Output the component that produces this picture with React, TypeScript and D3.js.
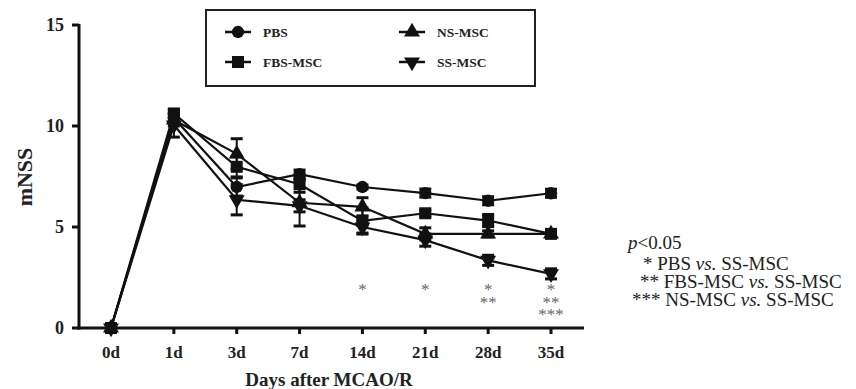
import React from 'react';
import * as d3 from 'd3';

// time points on the x axis
const days = ['0d', '1d', '3d', '7d', '14d', '21d', '28d', '35d'];
const yTicks = [0, 5, 10, 15];

// mean mNSS per group
const pbs = [0, 10.4, 6.98, 7.62, 6.98, 6.68, 6.3, 6.67];
const fbs = [0, 10.62, 7.98, 7.12, 5.3, 5.68, 5.32, 4.66];
const ns = [0, 10.3, 8.62, 6.2, 6.0, 4.66, 4.66, 4.66];
const ss = [0, 10.05, 6.35, 6.05, 5.0, 4.35, 3.35, 2.68];

// error (SEM) per group
const pbsErr = [0, 0.2, 0.45, 0.2, 0.1, 0.2, 0.2, 0.2];
const fbsErr = [0, 0.2, 0.5, 0.4, 0.65, 0.15, 0.3, 0.1];
const nsErr = [0, 0.3, 0.75, 1.15, 0.45, 0.3, 0.15, 0.1];
const ssErr = [0, 0.6, 0.75, 0.3, 0.3, 0.3, 0.25, 0.25];

// significance marks per day
const stars = [[], [], [], [], ['*'], ['*'], ['*', '**'], ['*', '**', '***']];

const groups = [
  { name: 'PBS', values: pbs, err: pbsErr, shape: 'circle' },
  { name: 'FBS-MSC', values: fbs, err: fbsErr, shape: 'square' },
  { name: 'NS-MSC', values: ns, err: nsErr, shape: 'up' },
  { name: 'SS-MSC', values: ss, err: ssErr, shape: 'down' },
];

const serif = '"Liberation Serif", "Times New Roman", serif';

const symbolPath = (shape: string) => {
  if (shape === 'circle') return d3.symbol(d3.symbolCircle, 120)()!;
  if (shape === 'square') return d3.symbol(d3.symbolSquare, 144)()!;
  return d3.symbol(d3.symbolTriangle, 110)()!;
};

const Marker = ({ shape, x, y }: { shape: string; x: number; y: number }) => (
  <path
    d={symbolPath(shape)}
    transform={`translate(${x},${y})${shape === 'down' ? ' rotate(180)' : ''}`}
    fill="#111"
  />
);

export default function App() {
  const x = d3.scalePoint<string>().domain(days).range([111, 551]);
  const y = d3.scaleLinear().domain([0, 15]).range([328, 25]);
  const line = d3
    .line<number>()
    .x((_, i) => x(days[i])!)
    .y((d) => y(d));

  return (
    <svg
      width={856}
      height={389}
      style={{ position: 'absolute', left: 0, top: 0, background: '#fff' }}
      fontFamily={serif}
    >
      {/* legend */}
      <rect x={206} y={10} width={329} height={76} fill="none" stroke="#222" strokeWidth={2} />
      {groups.map((g, i) => {
        const lx = i < 2 ? 238 : 412;
        const ly = i % 2 === 0 ? 32 : 62;
        return (
          <g key={g.name}>
            <line x1={lx - 13} x2={lx + 13} y1={ly} y2={ly} stroke="#111" strokeWidth={2.5} />
            <Marker shape={g.shape} x={lx} y={ly} />
            <text x={lx + 25} y={ly + 5} fontSize={13.5} fontWeight="bold" fill="#222">
              {g.name}
            </text>
          </g>
        );
      })}

      {/* lines */}
      {groups.map((g) => (
        <path key={g.name} d={line(g.values)!} fill="none" stroke="#111" strokeWidth={2.2} />
      ))}

      {/* error bars */}
      {groups.map((g) =>
        g.values.map((v, i) => {
          if (!g.err[i]) return null;
          const cx = x(days[i])!;
          const y1 = y(v + g.err[i]);
          const y2 = y(v - g.err[i]);
          return (
            <g key={g.name + i} stroke="#111">
              <line x1={cx} x2={cx} y1={y1} y2={y2} strokeWidth={2} />
              <line x1={cx - 6} x2={cx + 6} y1={y1} y2={y1} strokeWidth={3} />
              <line x1={cx - 6} x2={cx + 6} y1={y2} y2={y2} strokeWidth={3} />
            </g>
          );
        })
      )}

      {/* markers */}
      {groups.map((g) =>
        g.values.map((v, i) => (
          <Marker key={g.name + 'm' + i} shape={g.shape} x={x(days[i])!} y={y(v)} />
        ))
      )}

      {/* y axis */}
      <line x1={79} x2={79} y1={24} y2={329.5} stroke="#111" strokeWidth={3} />
      {yTicks.map((t) => (
        <g key={t}>
          <line x1={72} x2={79} y1={y(t)} y2={y(t)} stroke="#111" strokeWidth={3} />
          <text x={64} y={y(t) + 6} textAnchor="end" fontSize={18} fontWeight="bold" fill="#222">
            {t}
          </text>
        </g>
      ))}
      <text
        transform="translate(32,177) rotate(-90)"
        textAnchor="middle"
        fontSize={22}
        fontWeight="bold"
        fill="#222"
      >
        mNSS
      </text>

      {/* x axis */}
      <line x1={77.5} x2={584} y1={328} y2={328} stroke="#111" strokeWidth={3} />
      {days.map((d) => (
        <g key={d}>
          <line x1={x(d)} x2={x(d)} y1={328} y2={334} stroke="#111" strokeWidth={3} />
          <text x={x(d)} y={358} textAnchor="middle" fontSize={17} fontWeight="bold" fill="#222">
            {d}
          </text>
        </g>
      ))}
      <text x={329} y={386} textAnchor="middle" fontSize={19} fontWeight="bold" fill="#222">
        Days after MCAO/R
      </text>

      {/* significance stars */}
      {stars.map((s, i) =>
        s.length ? (
          <text key={i} fontSize={17} fill="#666" textAnchor="middle">
            {s.map((str, j) => (
              <tspan key={j} x={x(days[i])} y={295 + j * 12.5}>
                {str}
              </tspan>
            ))}
          </text>
        ) : null
      )}

      {/* note */}
      <g fontSize={19} fill="#222">
        <text x={628} y={249}>
          <tspan fontStyle="italic">p</tspan>&lt;0.05
        </text>
        <text x={643} y={270}>
          * PBS <tspan fontStyle="italic">vs.</tspan> SS-MSC
        </text>
        <text x={640} y={288}>
          ** FBS-MSC <tspan fontStyle="italic">vs.</tspan> SS-MSC
        </text>
        <text x={632} y={306}>
          *** NS-MSC <tspan fontStyle="italic">vs.</tspan> SS-MSC
        </text>
      </g>
    </svg>
  );
}
